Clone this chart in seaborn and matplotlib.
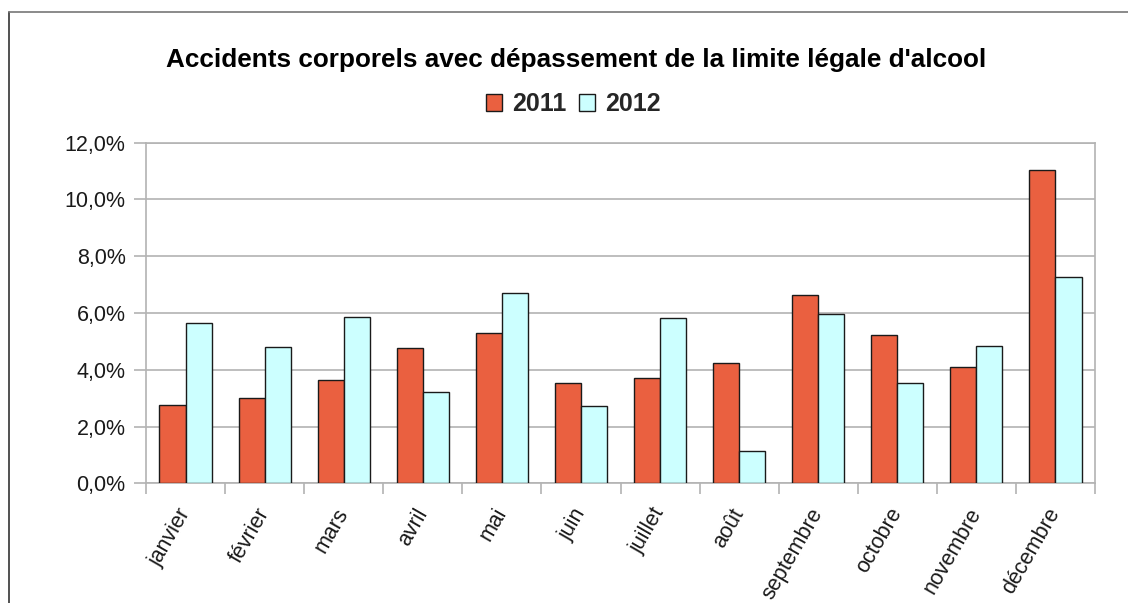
import matplotlib
matplotlib.use("Agg")
import matplotlib.pyplot as plt
import seaborn as sns
import pandas as pd
import numpy as np
from matplotlib.lines import Line2D

months = ["janvier", "février", "mars", "avril", "mai", "juin", "juillet",
          "août", "septembre", "octobre", "novembre", "décembre"]
series_names = ["2011", "2012"]
values_2011 = [2.75, 2.99, 3.64, 4.77, 5.28, 3.54, 3.70, 4.24, 6.63, 5.21, 4.10, 11.03]
values_2012 = [5.63, 4.79, 5.85, 3.23, 6.71, 2.72, 5.82, 1.14, 5.96, 3.52, 4.82, 7.27]
y_ticks = [0, 2, 4, 6, 8, 10, 12]
y_tick_labels = ["0,0%", "2,0%", "4,0%", "6,0%", "8,0%", "10,0%", "12,0%"]
title = "Accidents corporels avec dépassement de la limite légale d'alcool"

df = pd.DataFrame({
    "mois": months * 2,
    "annee": [series_names[0]] * len(months) + [series_names[1]] * len(months),
    "valeur": values_2011 + values_2012,
})

sns.set_theme(style="white")
plt.rcParams["font.family"] = ["Liberation Sans", "DejaVu Sans"]

W, H = 1128, 603
fig = plt.figure(figsize=(W / 100, H / 100), dpi=100)
ax = fig.add_axes([146 / W, 1 - 483.3 / H, (1095 - 146) / W, (483.3 - 142.5) / H])

palette = {"2011": "#EA6040", "2012": "#CCFFFF"}
sns.barplot(data=df, x="mois", y="valeur", hue="annee", order=months,
            hue_order=series_names, palette=palette, width=0.66,
            edgecolor="#1a1a1a", linewidth=1.0, saturation=1, ax=ax,
            legend=False, zorder=3)

grid_c = "#b3b3b3"
ax.set_ylim(0, 12)
ax.set_xlim(-0.5, len(months) - 0.5)
ax.set_yticks(y_ticks)
ax.set_yticklabels(y_tick_labels)
ax.yaxis.grid(True, color=grid_c, linewidth=1.2, zorder=0)
ax.set_axisbelow(True)
ax.set_xlabel("")
ax.set_ylabel("")
for s in ax.spines.values():
    s.set_color(grid_c)
    s.set_linewidth(1.2)

ax.set_xticks(np.arange(len(months)))
ax.set_xticklabels(months, rotation=60, ha="right", va="center",
                   rotation_mode="anchor", fontsize=15.5, color="#1a1a1a")
ax.tick_params(axis="x", which="major", length=0, pad=19)
ax.set_xticks(np.arange(len(months) + 1) - 0.5, minor=True)
ax.tick_params(axis="x", which="minor", length=8, width=1.2, color=grid_c,
               direction="out", bottom=True)
ax.tick_params(axis="y", length=8.6, width=1.2, color=grid_c, direction="out",
               left=True, labelsize=15.5, labelcolor="#1a1a1a", pad=6)

fig.text(576 / W, 1 - 60 / H, title, ha="center", va="center",
         fontsize=18.8, fontweight="bold", color="#000000")

handles = [plt.Rectangle((0, 0), 1, 1, facecolor=palette[n], edgecolor="#1a1a1a",
                         linewidth=1.0) for n in series_names]
fig.legend(handles, series_names, loc="center",
           bbox_to_anchor=(573 / W, 1 - 104 / H), ncol=2, frameon=False,
           prop={"weight": "bold", "size": 18}, handlelength=0.65,
           handleheight=0.65, handletextpad=0.4, columnspacing=0.5)

fig.add_artist(Line2D([9 / W, 9 / W], [0, 1 - 12 / H], transform=fig.transFigure,
                      color="#333333", linewidth=1.2))
fig.add_artist(Line2D([9 / W, 1], [1 - 12 / H, 1 - 12 / H], transform=fig.transFigure,
                      color="#777777", linewidth=1.2))

fig.savefig("out.png", dpi=100, facecolor="white")
